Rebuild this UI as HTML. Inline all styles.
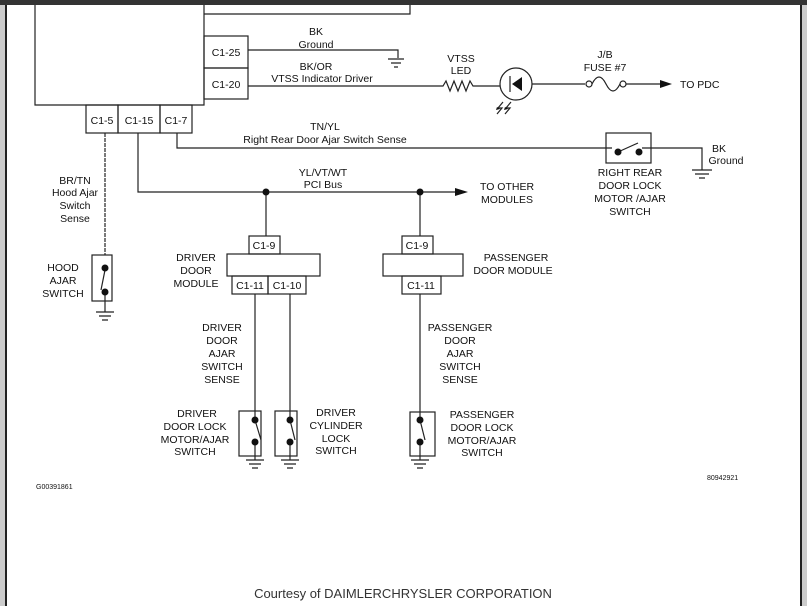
<!DOCTYPE html>
<html><head><style>
body{margin:0;width:807px;height:606px;overflow:hidden;background:#fff}
svg{display:block}
text{font-family:"Liberation Sans",sans-serif;font-size:10.5px;fill:#111}
</style></head><body>
<svg width="807" height="606" viewBox="0 0 807 606" xmlns="http://www.w3.org/2000/svg">
<rect x="0" y="0" width="5" height="606" fill="#ccc"/>
<rect x="5" y="0" width="2" height="606" fill="#222"/>
<rect x="802" y="0" width="5" height="606" fill="#ccc"/>
<rect x="800" y="0" width="2" height="606" fill="#222"/>
<rect x="0" y="0" width="807" height="5" fill="#333"/>
<g fill="none" stroke="#222" stroke-width="1.2">
<path d="M35 5V105H204V5M204 14H410V5"/>
<rect x="204" y="36" width="44" height="32"/><rect x="204" y="68" width="44" height="31"/>
<rect x="86" y="105" width="32" height="28"/><rect x="118" y="105" width="42" height="28"/><rect x="160" y="105" width="32" height="28"/>
<path d="M248 50H398V58"/><path d="M388 59H404M391 63H401M394 67H398"/>
<path d="M248 86H443l3-5 4 10 4-10 4 10 4-10 4 10 4-10 3 5H500"/>
<circle cx="516" cy="84" r="16"/><path d="M510 76V92"/><path d="M532 84H585"/>
<circle cx="589" cy="84" r="3"/><path d="M592 84q7-14 14 0t14 0"/><circle cx="623" cy="84" r="3"/><path d="M626 84H662"/>
<path d="M503 102l-5 6 4 0-5 6M511 102l-5 6 4 0-5 6"/>
<path d="M177 133V148H612M642 148H702V170"/><path d="M692 170H712M695 174H709M699 178H705"/>
<rect x="606" y="133" width="45" height="30"/><path d="M618 152L638 143"/>
<path d="M138 133V192H455"/><path d="M266 192V236M420 192V236"/>
<path d="M105 133V255" stroke-dasharray="4 1"/>
<rect x="92" y="255" width="20" height="46"/><path d="M105 270L101 290M105 292V312"/><path d="M96 312H114M99 316H111M102 320H108"/>
<rect x="249" y="236" width="31" height="18"/><rect x="227" y="254" width="93" height="22"/><rect x="232" y="276" width="36" height="18"/><rect x="268" y="276" width="38" height="18"/>
<rect x="402" y="236" width="31" height="18"/><rect x="383" y="254" width="80" height="22"/><rect x="402" y="276" width="39" height="18"/>
<path d="M255 294V420M290 294V420M420 294V420"/>
<rect x="239" y="411" width="22" height="45"/><rect x="275" y="411" width="22" height="45"/><rect x="410" y="412" width="25" height="44"/>
<path d="M255 420L261 440M255 442V460M290 420L295 440M290 442V460M420 420L425 440M420 442V460"/>
<path d="M246 460H264M249 464H261M252 468H258M281 460H299M284 464H296M287 468H293M411 460H429M414 464H426M417 468H423"/>
</g>
<g fill="#111">
<path d="M512 84L522 77V91Z"/>
<path d="M672 84L660 80V88Z"/><path d="M468 192L455 188V196Z"/>
<path d="M497 107l3 2-4 1zM505 107l3 2-4 1z"/>
<circle cx="618" cy="152" r="3.5"/><circle cx="639" cy="152" r="3.5"/>
<circle cx="266" cy="192" r="3.5"/><circle cx="420" cy="192" r="3.5"/>
<circle cx="105" cy="268" r="3.5"/><circle cx="105" cy="292" r="3.5"/>
<circle cx="255" cy="420" r="3.5"/><circle cx="255" cy="442" r="3.5"/><circle cx="290" cy="420" r="3.5"/><circle cx="290" cy="442" r="3.5"/><circle cx="420" cy="420" r="3.5"/><circle cx="420" cy="442" r="3.5"/>
</g>
<g text-anchor="middle">
<text x="226" y="56">C1-25</text><text x="226" y="88">C1-20</text>
<text x="102" y="124">C1-5</text><text x="139" y="124">C1-15</text><text x="176" y="124">C1-7</text>
<text x="316" y="35">BK</text><text x="316" y="48">Ground</text>
<text x="316" y="70">BK/OR</text><text x="322" y="82">VTSS Indicator Driver</text>
<text x="461" y="62">VTSS</text><text x="461" y="74">LED</text>
<text x="605" y="58">J/B</text><text x="605" y="71">FUSE #7</text>
<text x="325" y="130">TN/YL</text><text x="325" y="143">Right Rear Door Ajar Switch Sense</text>
<text x="719" y="152">BK</text><text x="726" y="164">Ground</text>
<text x="630" y="176">RIGHT REAR</text><text x="630" y="189">DOOR LOCK</text><text x="630" y="202">MOTOR /AJAR</text><text x="630" y="215">SWITCH</text>
<text x="323" y="176">YL/VT/WT</text><text x="323" y="188">PCI Bus</text>
<text x="507" y="190">TO OTHER</text><text x="507" y="203">MODULES</text>
<text x="75" y="184">BR/TN</text><text x="75" y="196">Hood Ajar</text><text x="75" y="209">Switch</text><text x="75" y="222">Sense</text>
<text x="63" y="271">HOOD</text><text x="63" y="284">AJAR</text><text x="63" y="297">SWITCH</text>
<text x="264" y="249">C1-9</text><text x="250" y="289">C1-11</text><text x="287" y="289">C1-10</text>
<text x="417" y="249">C1-9</text><text x="421" y="289">C1-11</text>
<text x="196" y="261">DRIVER</text><text x="196" y="274">DOOR</text><text x="196" y="287">MODULE</text>
<text x="516" y="261">PASSENGER</text><text x="513" y="274">DOOR MODULE</text>
<text x="222" y="331">DRIVER</text><text x="222" y="344">DOOR</text><text x="222" y="357">AJAR</text><text x="222" y="370">SWITCH</text><text x="222" y="383">SENSE</text>
<text x="460" y="331">PASSENGER</text><text x="460" y="344">DOOR</text><text x="460" y="357">AJAR</text><text x="460" y="370">SWITCH</text><text x="460" y="383">SENSE</text>
<text x="197" y="417">DRIVER</text><text x="195" y="430">DOOR LOCK</text><text x="195" y="443">MOTOR/AJAR</text><text x="195" y="455">SWITCH</text>
<text x="336" y="416">DRIVER</text><text x="336" y="429">CYLINDER</text><text x="336" y="442">LOCK</text><text x="336" y="454">SWITCH</text>
<text x="482" y="418">PASSENGER</text><text x="482" y="431">DOOR LOCK</text><text x="482" y="444">MOTOR/AJAR</text><text x="482" y="456">SWITCH</text>
</g>
<text x="680" y="88">TO PDC</text>
<text x="36" y="489" style="font-size:7px">G00391861</text>
<text x="707" y="480" style="font-size:7px">80942921</text>
<text x="403" y="598" text-anchor="middle" style="font-size:13px;fill:#333">Courtesy of DAIMLERCHRYSLER CORPORATION</text>
</svg>
</body></html>
